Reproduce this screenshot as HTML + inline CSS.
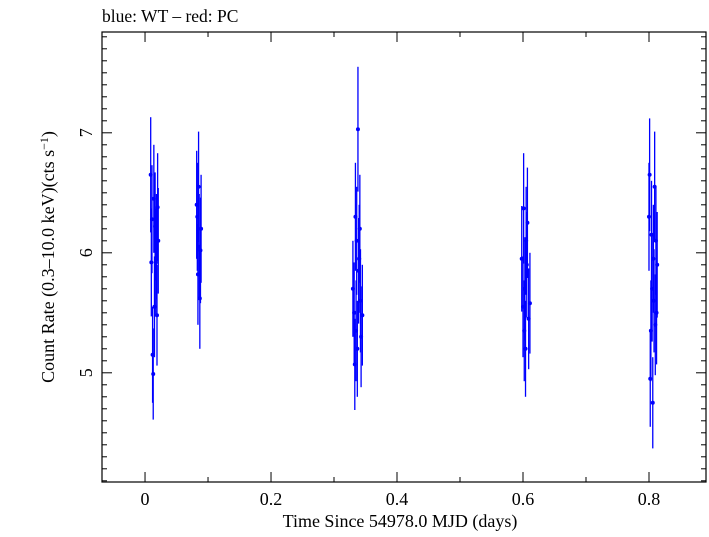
<!DOCTYPE html>
<html><head><meta charset="utf-8"><style>
body{margin:0;background:#fff}
svg text{font-family:"Liberation Serif",serif;fill:#000}
</style></head><body>
<svg id="chart" width="709" height="532" xmlns="http://www.w3.org/2000/svg">
<text x="102" y="22" font-size="17.5">blue: WT – red: PC</text>
<rect x="102" y="32" width="604" height="450" fill="none" stroke="#000" stroke-width="1.2"/>
<g id="axes"></g>
<g id="marks"></g>
<text x="400" y="527" font-size="18" text-anchor="middle">Time Since 54978.0 MJD (days)</text>
<text transform="translate(54,257) rotate(-90)" font-size="18" text-anchor="middle">Count Rate (0.3–10.0 keV)(cts s<tspan dy="-6" font-size="12">−1</tspan><tspan dy="6">)</tspan></text>
</svg>
<script>
const times=[0.009,0.010,0.011,0.012,0.013,0.014,0.015,0.016,0.017,0.018,0.019,0.020,0.021,
0.082,0.083,0.084,0.085,0.086,0.087,0.088,0.089,
0.330,0.332,0.333,0.334,0.335,0.336,0.337,0.338,0.339,0.340,0.341,0.342,0.343,0.345,
0.598,0.600,0.601,0.602,0.603,0.604,0.605,0.606,0.607,0.609,0.611,
0.800,0.801,0.802,0.803,0.804,0.805,0.806,0.807,0.808,0.809,0.810,0.811,0.812,0.813];
const rates=[6.65,5.92,6.28,5.15,4.99,6.45,5.55,6.22,5.92,6.05,5.48,6.38,6.1,
6.4,6.3,5.82,6.55,6.05,5.62,6.02,6.2,
5.7,5.5,5.07,6.3,5.35,6.1,5.2,7.03,5.85,5.95,6.2,5.6,5.3,5.48,
5.95,5.55,6.37,5.35,5.7,5.2,6.1,5.9,6.25,5.45,5.58,
6.3,6.65,4.95,5.35,6.15,5.7,4.75,5.95,5.6,6.55,5.4,6.1,5.5,5.9];
const errs=[0.48,0.45,0.45,0.4,0.38,0.45,0.42,0.45,0.45,0.44,0.42,0.45,0.44,
0.45,0.45,0.42,0.46,0.44,0.42,0.44,0.45,
0.4,0.42,0.38,0.45,0.42,0.45,0.4,0.52,0.44,0.45,0.45,0.43,0.42,0.42,
0.44,0.42,0.46,0.42,0.43,0.4,0.45,0.44,0.46,0.42,0.42,
0.45,0.47,0.4,0.42,0.45,0.44,0.38,0.45,0.43,0.46,0.42,0.45,0.43,0.44];
const xTicks=[0,0.2,0.4,0.6,0.8];
const xTickLabels=["0","0.2","0.4","0.6","0.8"];
const yTicks=[5,6,7];
const yTickLabels=["5","6","7"];
const X0=102,X1=706,Y0=32,Y1=482;
const xMin=-0.0683,xMax=0.8905,yMin=4.09,yMax=7.84;
const sx=v=>X0+(v-xMin)/(xMax-xMin)*(X1-X0);
const sy=v=>Y1-(v-yMin)/(yMax-yMin)*(Y1-Y0);
const NS="http://www.w3.org/2000/svg";
const axes=document.getElementById('axes'),marks=document.getElementById('marks');
function mk(tag,attrs,parent){const e=document.createElementNS(NS,tag);for(const k in attrs)e.setAttribute(k,attrs[k]);parent.appendChild(e);return e;}
for(let k=-1;k<=9;k++){const vv=k/10;if(vv<xMin||vv>xMax)continue;
 const major=k%2===0;const len=major?10:5;
 const t=mk('line',{x1:sx(vv),x2:sx(vv),y1:Y1,y2:Y1-len,stroke:'#000'},axes);
 
 
 const t2=mk('line',{x1:sx(vv),x2:sx(vv),y1:Y0,y2:Y0+len,stroke:'#000'},axes);
 
 }
xTicks.forEach((v,i)=>{const t=mk('text',{x:sx(v),y:505,'font-size':18,'text-anchor':'middle'},axes);t.textContent=xTickLabels[i];
 
 });
for(let k=41;k<=78;k++){const v=k/10;if(v<yMin||v>yMax)continue;
 const major=k%10===0;const len=major?10:5;
 const t=mk('line',{x1:X0,x2:X0+len,y1:sy(v),y2:sy(v),stroke:'#000'},axes);
 
 
 const t2=mk('line',{x1:X1,x2:X1-len,y1:sy(v),y2:sy(v),stroke:'#000'},axes);
 
 }
yTicks.forEach((v,i)=>{const t=mk('text',{transform:`translate(92,${sy(v)}) rotate(-90)`,'font-size':18,'text-anchor':'middle'},axes);t.textContent=yTickLabels[i];
 
 });
times.forEach((t,i)=>{const x=sx(t);
 const l=mk('line',{x1:x,x2:x,y1:sy(rates[i]+errs[i]),y2:sy(rates[i]-errs[i]),stroke:'#0000ff','stroke-width':1.3},marks);
 
 
 const c=mk('circle',{cx:x,cy:sy(rates[i]),r:2,fill:'#0000ff'},marks);
 
 });
</script>
</body></html>
